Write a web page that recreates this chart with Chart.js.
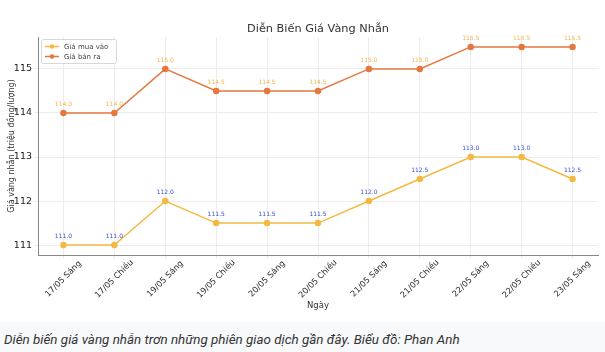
<!DOCTYPE html>
<html>
<head>
<meta charset="utf-8">
<script src="https://cdn.jsdelivr.net/npm/chart.js@4"></script>
<style>
  html, body { margin: 0; padding: 0; background: #f8f9fb; }
  #wrap { width: 605px; height: 322px; background: #fff; }
  .caption {
    font-family: Roboto, "Noto Sans", sans-serif;
    font-style: italic; font-size: 13.4px; color: #333;
    padding: 10px 0 0 4px;
  }
</style>
</head>
<body>
<div id="wrap"><canvas id="goldChart" width="605" height="322"></canvas></div>
<div class="caption">Diễn biến giá vàng nhẫn trơn những phiên giao dịch gần đây. Biểu đồ: Phan Anh</div>
<script>
// du lieu doc tu hinh
var categories = ['17/05 Sáng', '17/05 Chiều', '19/05 Sáng', '19/05 Chiều', '20/05 Sáng', '20/05 Chiều',
                  '21/05 Sáng', '21/05 Chiều', '22/05 Sáng', '22/05 Chiều', '23/05 Sáng'];
var giaMuaVao = [111.0, 111.0, 112.0, 111.5, 111.5, 111.5, 112.0, 112.5, 113.0, 113.0, 112.5];
var giaBanRa  = [114.0, 114.0, 115.0, 114.5, 114.5, 114.5, 115.0, 115.0, 115.5, 115.5, 115.5];
var yTicks = [111, 112, 113, 114, 115];

var FONT = '"DejaVu Sans", sans-serif';
var colorMua = '#f4b942';
var colorBan = '#e5773f';

// ve nhan gia tri, nhan truc x, tieu de va chu thich
var extrasPlugin = {
    id: 'extras',
    afterDatasetsDraw: function(chart) {
        var ctx = chart.ctx;
        var labelColors = ['#3b4fd4', '#f2b54e'];
        ctx.save();
        ctx.font = '6px ' + FONT;
        ctx.textAlign = 'center';
        ctx.textBaseline = 'alphabetic';
        chart.data.datasets.forEach(function(ds, i) {
            var meta = chart.getDatasetMeta(i);
            ctx.fillStyle = labelColors[i];
            meta.data.forEach(function(pt, j) {
                ctx.fillText(ds.data[j].toFixed(1), pt.x, pt.y - 7);
            });
        });
        ctx.restore();
    },
    afterDraw: function(chart) {
        var ctx = chart.ctx;
        var xs = chart.scales.x;
        var area = chart.chartArea;
        var midX = (area.left + area.right) / 2;
        ctx.save();
        // tieu de
        ctx.font = '11.3px ' + FONT;
        ctx.fillStyle = '#333';
        ctx.textAlign = 'center';
        ctx.textBaseline = 'middle';
        ctx.fillText('Diễn Biến Giá Vàng Nhẫn', midX, 29);

        // nhan truc x xoay 45 do
        ctx.font = '8.3px ' + FONT;
        ctx.fillStyle = '#2a2a2a';
        categories.forEach(function(c, i) {
            var x = xs.getPixelForValue(i);
            ctx.save();
            ctx.translate(x, area.bottom + 24);
            ctx.rotate(-Math.PI / 4);
            ctx.fillText(c, 0, 0);
            ctx.restore();
        });
        // tieu de truc x
        ctx.font = '8.5px ' + FONT;
        ctx.fillStyle = '#333';
        ctx.fillText('Ngày', midX, 306);

        // chu thich
        var lx = area.left + 3, ly = area.top + 2;
        ctx.fillStyle = 'rgba(255,255,255,0.85)';
        ctx.strokeStyle = '#d8d8d8';
        ctx.lineWidth = 1;
        ctx.beginPath();
        ctx.roundRect(lx + 0.5, ly + 0.5, 75, 24, 2);
        ctx.fill();
        ctx.stroke();
        var items = [['Giá mua vào', colorMua], ['Giá bán ra', colorBan]];
        ctx.font = '7px ' + FONT;
        ctx.textAlign = 'left';
        items.forEach(function(it, k) {
            var yy = ly + 7.5 + k * 10;
            ctx.strokeStyle = it[1];
            ctx.lineWidth = 1.5;
            ctx.beginPath();
            ctx.moveTo(lx + 4, yy);
            ctx.lineTo(lx + 18, yy);
            ctx.stroke();
            ctx.fillStyle = it[1];
            ctx.beginPath();
            ctx.arc(lx + 11, yy, 2.2, 0, Math.PI * 2);
            ctx.fill();
            ctx.fillStyle = '#444';
            ctx.fillText(it[0], lx + 23, yy + 0.5);
        });
        ctx.restore();
    }
};

var ctx = document.getElementById('goldChart').getContext('2d');
var myChart = new Chart(ctx, {
    type: 'line',
    data: {
        labels: categories,
        datasets: [
            {
                label: 'Giá mua vào',
                data: giaMuaVao,
                borderColor: colorMua,
                backgroundColor: colorMua,
                borderWidth: 1.5,
                pointRadius: 2.5,
                pointHoverRadius: 2.5,
                tension: 0
            },
            {
                label: 'Giá bán ra',
                data: giaBanRa,
                borderColor: colorBan,
                backgroundColor: colorBan,
                borderWidth: 1.5,
                pointRadius: 2.5,
                pointHoverRadius: 2.5,
                tension: 0
            }
        ]
    },
    options: {
        responsive: false,
        animation: false,
        layout: { padding: { left: 0, right: 7, top: 37, bottom: 0 } },
        scales: {
            x: {
                type: 'category',
                offset: true,
                afterFit: function(scale) { scale.height = 67; },
                ticks: { display: false },
                grid: { color: '#ececec', tickLength: 4, drawTicks: true, offset: false },
                border: { color: '#888', width: 1 }
            },
            y: {
                min: 110.775,
                max: 115.725,
                afterFit: function(scale) { scale.width = 38; },
                afterBuildTicks: function(scale) {
                    scale.ticks = yTicks.map(function(v) { return { value: v }; });
                },
                ticks: {
                    color: '#222',
                    font: { family: FONT, size: 9.5 },
                    padding: 2
                },
                grid: { color: '#ececec', tickLength: 4 },
                border: { color: '#888', width: 1 },
                title: {
                    display: true,
                    text: 'Giá vàng nhẫn (triệu đồng/lượng)',
                    color: '#333',
                    font: { family: FONT, size: 8 },
                    padding: { top: 7, bottom: 0 }
                }
            }
        },
        plugins: {
            legend: { display: false },
            tooltip: { enabled: false },
            title: { display: false }
        }
    },
    plugins: [extrasPlugin]
});
</script>
</body>
</html>
